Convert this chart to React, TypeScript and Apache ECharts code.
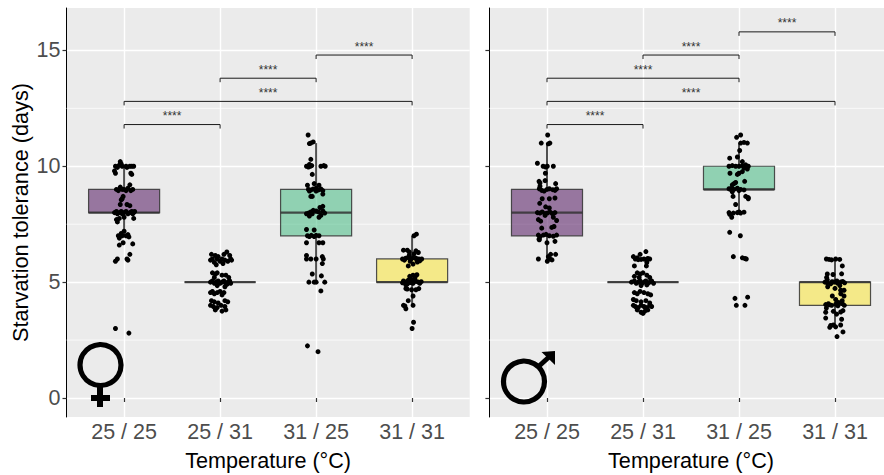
import React, { useEffect, useRef } from "react";
import * as echarts from "echarts";

const categories = ["25 / 25", "25 / 31", "31 / 25", "31 / 31"];
const yTicks = [0, 5, 10, 15];
const yMinor = [2.5, 7.5, 12.5];
const xTicks = [1, 2, 3, 4];
const boxColors = ["rgba(68,1,84,0.5)", "rgba(68,1,84,0.5)", "rgba(53,183,121,0.5)", "rgba(253,231,37,0.5)"];

// [x, lower whisker, q1, median, q3, upper whisker]
const femaleBoxes = [
  [1, 7, 8, 8, 9, 10],
  [2, 5, 5, 5, 5, 5],
  [3, 5, 7, 8, 9, 11],
  [4, 4, 5, 5, 6, 7],
];
const maleBoxes = [
  [1, 6, 7, 8, 9, 11],
  [2, 5, 5, 5, 5, 5],
  [3, 8, 9, 9, 10, 11],
  [4, 3, 4, 5, 5, 6],
];
// [from, to, height]
const femaleBrackets = [
  [1, 2, 11.8],
  [1, 4, 12.8],
  [2, 3, 13.8],
  [3, 4, 14.8],
];
const maleBrackets = [
  [1, 2, 11.8],
  [1, 4, 12.8],
  [1, 3, 13.8],
  [2, 3, 14.8],
  [3, 4, 15.8],
];

// jittered observations: [offset from category, days]
const f2525 = [
  [-.09, 10], [-.07, 9.95], [-.05, 10.05], [-.03, 10.1], [-.04, 10.2], [-.02, 10], [.02, 10], [.03, 9.95], [.06, 10], [.08, 10], [.1, 10], [-.1, 9.8], [-.09, 9.7], [.08, 9.65], [.07, 9.7],
  [.06, 9.2], [-.04, 9.1], [-.08, 9], [-.06, 8.95], [-.04, 9.05], [-.02, 9], [0, 9], [.02, 8.95], [.04, 9.05], [.09, 9], [.07, 8.95],
  [-.01, 8.7], [-.02, 8.6], [-.03, 8.55], [-.04, 8.35], [.03, 8.35], [.06, 8.3],
  [-.1, 8], [-.08, 8.05], [-.07, 7.95], [-.05, 8], [-.03, 8.05], [-.02, 7.95], [0, 8], [.02, 8.05], [.04, 7.95], [.06, 8], [.08, 8.05], [.09, 7.95], [.1, 8], [.11, 8.05],
  [-.08, 7.7], [-.07, 7.6], [-.05, 7.75], [0, 7.8], [.1, 7.75],
  [-.06, 7], [-.05, 6.9], [-.03, 7.1], [-.02, 7], [0, 7.2], [.02, 7], [.04, 7.05], [.05, 6.95],
  [-.05, 6.6], [-.01, 6.7], [.09, 6.65],
  [-.09, 5.9], [-.07, 6], [.03, 6], [.04, 5.95], [.06, 6.2], [-.09, 3], [.05, 2.8],
];
const f2531 = [
  [-.09, 6.2], [-.05, 6.15], [-.02, 6.1], [.04, 6.2], [.07, 6.3], [.1, 6.15],
  [-.1, 5.95], [-.08, 6], [-.06, 5.85], [-.03, 6], [0, 5.9], [.02, 6], [.05, 5.95], [.08, 5.9], [.11, 6], [.12, 5.95], [-.04, 5.75], [.03, 5.8],
  [-.08, 5.4], [-.05, 5.35], [-.03, 5.4], [.02, 5.3], [.06, 5.3], [-.06, 5.2], [.09, 5.2],
  [-.1, 5], [-.08, 5.05], [-.06, 4.95], [-.04, 5], [-.02, 5.05], [0, 4.95], [.02, 5], [.04, 5.05], [.06, 4.95], [.08, 5], [.1, 5.05], [.11, 4.95], [-.03, 4.85], [.05, 4.8], [.07, 4.9],
  [-.1, 4.55], [-.08, 4.6], [-.06, 4.5], [-.03, 4.55], [0, 4.6], [.04, 4.55], [.02, 4.45],
  [-.09, 4.2], [-.06, 4.15], [-.02, 4.1], [.05, 4.2], [.08, 4.15],
  [-.1, 4], [-.07, 3.95], [-.03, 3.9], [.01, 4], [.05, 3.95], [-.05, 3.8], [.02, 3.75], [.06, 3.8],
];
const f3125 = [
  [-.083, 11.35], [-.07, 10.98], [-.055, 11], [-.03, 11.05], [-.055, 10.3],
  [-.1, 10], [-.08, 9.97], [-.06, 10], [-.045, 10.03], [-.07, 10.08], [.05, 10], [.08, 10.03], [.095, 10],
  [-.04, 9.65], [-.09, 9.18], [-.02, 9.25], [.03, 9.18],
  [-.08, 9], [-.055, 8.98], [-.03, 9.02], [0, 9.05], [.025, 8.98], [.05, 9.02], [.07, 8.95], [-.07, 8.93], [0, 8.93], [.07, 8.8], [-.055, 8.7], [-.04, 8.7],
  [.07, 8.27], [.04, 8.22],
  [-.1, 7.95], [-.08, 7.98], [-.055, 8.03], [-.03, 8.1], [0, 8.07], [.025, 8.03], [.07, 8.07], [.09, 7.98], [-.07, 7.85], [.03, 7.8], [.05, 7.88], [-.04, 7.95],
  [-.1, 7.27], [-.02, 7.25],
  [-.09, 7], [-.07, 6.97], [-.05, 7.02], [-.02, 6.97], [0, 7.02], [.03, 7],
  [-.1, 6.7], [.03, 6.7], [.07, 6.7],
  [-.1, 6.15], [-.1, 6], [-.055, 6], [0, 6], [.065, 6.1], [.075, 6], [.065, 5.8],
  [-.04, 5.35], [.055, 5.27], [-.075, 5], [-.02, 5], [0, 5], [.09, 5], [.05, 4.62], [-.09, 2.25], [.02, 2],
];
const f3131 = [
  [.02, 7], [.045, 7.07], [-.09, 6.38], [-.05, 6.38], [.065, 6.28], [-.03, 6.3], [.04, 6.35],
  [-.1, 6], [-.066, 6.03], [-.04, 6.07], [-.015, 5.98], [.01, 6.05], [.04, 6.03], [.07, 6], [.1, 6], [-.03, 6.15], [.02, 6.22], [-.08, 5.95], [.05, 5.93], [-.02, 5.9], [.08, 5.92],
  [-.04, 5.7], [.01, 5.78], [.055, 5.87], [.05, 5.32], [-.025, 5.25], [.01, 5.3], [.03, 5.2],
  [-.1, 4.97], [-.07, 5], [-.04, 5.08], [-.015, 5.15], [.01, 4.95], [.04, 5.03], [.065, 5], [.095, 5.02], [-.05, 4.92], [0, 5.05], [-.065, 4.88], [-.09, 5.05], [.08, 4.95], [.03, 5.1], [-.02, 4.98],
  [-.05, 4.7], [-.005, 4.67], [.04, 4.67], [-.065, 4.72], [.07, 4.72], [.01, 4.4], [-.04, 4.2], [-.09, 4], [-.075, 3.97], [.01, 4], [-.065, 3.85],
  [.015, 3.27], [0, 3],
];
const m2525 = [
  [.007, 11.35], [-.06, 11], [.03, 11], [.014, 10.97],
  [-.1, 10.13], [-.04, 10], [-.014, 9.97], [.003, 10], [.066, 10], [-.017, 9.7],
  [-.083, 9.35], [-.073, 9.28], [-.02, 9.38], [.09, 9.25],
  [-.08, 9.03], [-.055, 8.96], [-.03, 8.93], [0, 9], [.024, 9.03], [.06, 8.99], [.083, 8.96], [.1, 9.03], [-.073, 9.14],
  [-.05, 8.6], [.024, 8.6], [.083, 8.63], [-.076, 8.4], [-.014, 8.25], [.024, 8.2],
  [-.1, 8], [-.073, 7.98], [-.05, 8.03], [-.02, 7.96], [.003, 7.98], [.03, 8.03], [.055, 7.96], [.083, 8], [-.02, 7.88], [.066, 7.8],
  [-.09, 7.7], [-.066, 7.63], [.1, 7.66], [-.055, 7.33], [.05, 7.36], [.073, 7.4],
  [-.09, 7.03], [-.073, 6.96], [-.038, 7.03], [-.01, 7.06], [.024, 7], [.066, 6.98], [.1, 7.03], [-.083, 6.85],
  [0, 6.7], [-.08, 6.83], [.083, 6.76],
  [-.09, 6], [.014, 6.1], [.038, 6.2], [.09, 6.2], [.003, 5.9], [.03, 6], [.052, 5.96],
];
const m2531 = [
  [.03, 6.32], [-.03, 6.2], [-.1, 6.1], [-.08, 6], [-.05, 5.97], [-.02, 5.98], [.01, 6], [.035, 5.97], [.07, 6], [.04, 5.85], [-.09, 5.7], [.035, 5.7], [-.06, 6.05], [.05, 6.02],
  [-.06, 5.4], [-.03, 5.35], [0, 5.4], [.04, 5.3], [-.09, 5.25], [.07, 5.2], [-.04, 5.2],
  [-.12, 5], [-.09, 5.05], [-.07, 4.95], [-.05, 5], [-.03, 5.05], [-.01, 4.95], [.01, 5], [.03, 5.05], [.05, 4.95], [.07, 5], [.09, 5.05], [.11, 4.95], [-.02, 4.85], [.04, 4.88],
  [-.09, 4.55], [-.06, 4.5], [-.03, 4.6], [.01, 4.55], [.05, 4.5], [.08, 4.45],
  [-.1, 4.25], [-.07, 4.2], [-.02, 4.15], [.03, 4.2], [.07, 4.1],
  [-.1, 4], [-.08, 3.95], [-.05, 3.9], [-.02, 4], [.01, 3.95], [.04, 3.9], [.07, 4], [.09, 3.95], [-.06, 3.8], [-.02, 3.7], [.02, 3.75], [.05, 3.8], [0, 3.65],
];
const m3125 = [
  [.017, 11.35], [-.025, 11.25], [.017, 11], [.052, 11.03], [.087, 11], [.007, 10.68], [-.097, 10.35], [-.017, 10.4], [.035, 10.2],
  [-.104, 10], [-.07, 10.03], [-.035, 10], [0, 10], [.035, 10.03], [.07, 10.06], [.097, 10], [.052, 9.92], [.087, 9.88], [.035, 9.77], [0, 9.7], [-.017, 9.65], [-.094, 9.7],
  [.059, 9.35], [-.035, 9.3], [-.052, 9.25], [-.07, 9.2],
  [-.104, 9.03], [-.08, 8.98], [-.052, 9], [-.017, 9.05], [.017, 9], [.052, 8.98], [0, 8.95], [-.07, 8.9], [-.076, 9.05],
  [.07, 8.7], [.097, 8.65], [-.062, 8.7], [.097, 8.6], [-.035, 8.35],
  [-.104, 8], [-.059, 7.98], [-.017, 8], [.017, 7.98], [.052, 8.02], [-.076, 7.8], [-.097, 7.93], [0, 8.03],
  [-.097, 7.15], [.014, 7], [-.059, 6.1], [.035, 6.05], [.076, 6], [.062, 6.02],
  [-.042, 4.3], [.09, 4.35], [-.028, 4], [.062, 4],
];
const m3131 = [
  [-.09, 6], [-.062, 5.98], [-.035, 5.96], [.007, 6], [.049, 5.98], [.076, 5.7],
  [-.08, 5.35], [-.021, 5.33], [.069, 5.36], [-.087, 5.2], [-.08, 5.1],
  [-.104, 5], [-.08, 4.97], [-.045, 4.93], [-.01, 5], [.024, 4.96], [.059, 5], [.1, 4.97], [-.076, 4.8], [0, 4.73], [.059, 4.65], [.094, 4.65], [-.028, 4.4], [.007, 4.25], [.094, 4.4],
  [-.097, 4.03], [-.069, 4.07], [-.035, 4], [.007, 4.05], [.035, 4.12], [.076, 4.07], [.097, 4], [-.09, 3.88], [-.097, 3.7], [-.017, 3.74], [.017, 3.62], [.059, 3.71], [.083, 3.77],
  [-.097, 3.45], [.069, 3.4], [-.045, 3.13], [-.017, 3.15], [.007, 3.07], [.059, 3.15], [.083, 2.85], [.021, 2.65],
  [-.06, 4.02], [.03, 3.98], [.06, 4.5], [.075, 4.2], [-.03, 5.02], [.02, 5.05], [.08, 5.03], [.05, 4.85], [-.055, 3.05],
];

const femalePoints = [f2525, f2531, f3125, f3131];
const malePoints = [m2525, m2531, m3125, m3131];

const FONT = "'Liberation Sans', Arial, sans-serif";
const DARK = "rgba(51,51,51,0.85)";
const PANELS = [
  { left: 66.5, boxes: femaleBoxes, brackets: femaleBrackets, points: femalePoints },
  { left: 489.4, boxes: maleBoxes, brackets: maleBrackets, points: malePoints },
];

function panelSeries(i: number, p: (typeof PANELS)[number]) {
  return [
    {
      type: "custom", xAxisIndex: i, yAxisIndex: i, z: 1, silent: true,
      data: yMinor.map((v) => [0.4, v]),
      renderItem: (_: any, api: any) => {
        const a = api.coord([0.4, api.value(1)]);
        const b = api.coord([4.6, api.value(1)]);
        return { type: "line", shape: { x1: a[0], y1: a[1], x2: b[0], y2: b[1] }, style: { stroke: "#fff", lineWidth: 0.7 } };
      },
    },
    {
      type: "custom", xAxisIndex: i, yAxisIndex: i, z: 2, silent: true,
      data: p.boxes,
      renderItem: (params: any, api: any) => {
        const x = api.value(0);
        const [lo, q1, med, q3, hi] = [1, 2, 3, 4, 5].map((d) => api.coord([x, api.value(d)])[1]);
        const cx = api.coord([x, 0])[0];
        const l = api.coord([x - 0.37, 0])[0];
        const r = api.coord([x + 0.37, 0])[0];
        const edge = { stroke: DARK, lineWidth: 2 };
        return {
          type: "group",
          children: [
            { type: "line", shape: { x1: cx, y1: hi, x2: cx, y2: q3 }, style: edge },
            { type: "line", shape: { x1: cx, y1: q1, x2: cx, y2: lo }, style: edge },
            { type: "rect", shape: { x: l, y: q3, width: r - l, height: q1 - q3 }, style: { fill: boxColors[params.dataIndex], stroke: DARK, lineWidth: 1.2 } },
            { type: "line", shape: { x1: l, y1: med, x2: r, y2: med }, style: { stroke: DARK, lineWidth: 2.4 } },
          ],
        };
      },
    },
    {
      type: "scatter", xAxisIndex: i, yAxisIndex: i, z: 3, silent: true,
      symbolSize: 5, itemStyle: { color: "#000", opacity: 1 },
      data: p.points.flatMap((g, k) => g.map(([dx, y]) => [xTicks[k] + dx, y])),
    },
    {
      type: "custom", xAxisIndex: i, yAxisIndex: i, z: 4, silent: true,
      data: p.brackets,
      renderItem: (_: any, api: any) => {
        const a = api.coord([api.value(0), api.value(2)]);
        const b = api.coord([api.value(1), api.value(2)]);
        return {
          type: "group",
          children: [
            { type: "polyline", shape: { points: [[a[0], a[1] + 4], a, b, [b[0], b[1] + 4]] }, style: { stroke: "#1a1a1a", lineWidth: 1, fill: "none" } },
            { type: "text", style: { text: "****", x: (a[0] + b[0]) / 2, y: a[1] - 8.5, align: "center", verticalAlign: "middle", fill: "#333", font: `12px ${FONT}` } },
          ],
        };
      },
    },
  ];
}

const option = {
  animation: false,
  backgroundColor: "#fff",
  textStyle: { fontFamily: FONT },
  grid: PANELS.map((p) => ({ left: p.left, top: 8, width: 403.2, height: 409, outerBoundsMode: "none", backgroundColor: "#EBEBEB", show: true, borderWidth: 0 })),
  xAxis: PANELS.map((_, i) => ({
    type: "value", gridIndex: i, min: 0.4, max: 4.6,
    name: "Temperature (°C)", nameLocation: "middle", nameGap: 32,
    nameTextStyle: { fontSize: 21.6, color: "#000", fontFamily: FONT },
    axisLine: { show: false },
    axisTick: { show: true, length: 4, customValues: xTicks, lineStyle: { color: "#333", width: 1.2 } },
    axisLabel: { show: true, customValues: xTicks, fontSize: 21.5, color: "#4D4D4D", margin: 4, fontFamily: FONT, formatter: (v: number) => categories[v - 1] },
    splitLine: { show: true, lineStyle: { color: "#fff", width: 1.4 } },
    minorSplitLine: { show: false },
  })),
  yAxis: PANELS.map((_, i) => ({
    type: "value", gridIndex: i, min: -0.82, max: 16.83,
    name: i === 0 ? "Starvation tolerance (days)" : "", nameLocation: "middle", nameGap: 35,
    nameTextStyle: { fontSize: 21.7, color: "#000", fontFamily: FONT },
    axisLine: { show: true, onZero: false, lineStyle: { color: "#000", width: 1 } },
    axisTick: { show: true, length: 4, customValues: yTicks, lineStyle: { color: "#333", width: 1.2 } },
    axisLabel: { show: i === 0, customValues: yTicks, fontSize: 21.5, color: "#4D4D4D", margin: 6, fontFamily: FONT },
    splitLine: { show: true, lineStyle: { color: "#fff", width: 1.4 } },
  })),
  series: PANELS.flatMap((p, i) => panelSeries(i, p)),
  graphic: [
    { type: "circle", z: 10, shape: { cx: 100.5, cy: 365, r: 20.5 }, style: { fill: "none", stroke: "#000", lineWidth: 5.2 } },
    { type: "rect", z: 10, shape: { x: 97, y: 387, width: 6, height: 20 }, style: { fill: "#000" } },
    { type: "rect", z: 10, shape: { x: 91, y: 395, width: 19, height: 6 }, style: { fill: "#000" } },
    { type: "circle", z: 10, shape: { cx: 524, cy: 381.5, r: 20.5 }, style: { fill: "none", stroke: "#000", lineWidth: 5.2 } },
    { type: "line", z: 10, shape: { x1: 538, y1: 367, x2: 549, y2: 357 }, style: { stroke: "#000", lineWidth: 5 } },
    { type: "polygon", z: 10, shape: { points: [[541.5, 352], [555, 351], [555, 365]] }, style: { fill: "#000" } },
  ],
};

export default function App() {
  const ref = useRef<HTMLDivElement>(null);
  useEffect(() => {
    const chart = echarts.init(ref.current!, undefined, { renderer: "svg" });
    chart.setOption(option as any);
    return () => chart.dispose();
  }, []);
  return <div ref={ref} style={{ position: "absolute", left: 0, top: 0, width: 884, height: 475, overflow: "hidden" }} />;
}
